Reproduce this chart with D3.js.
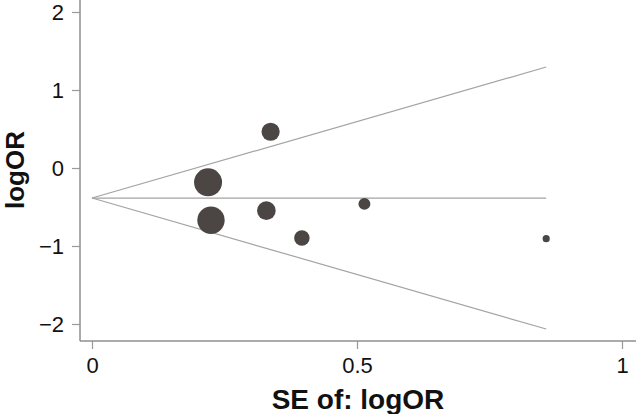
<!doctype html>
<html lang="en">
<head>
    <meta charset="utf-8">
    <script src="https://d3js.org/d3.v7.min.js"></script>
    <style>
        body { margin: 0; background: #fff; }
        svg { display: block; font-family: "Liberation Sans", Arial, sans-serif; }
    </style>
    <title>Funnel plot</title>
</head>
<body>
<div id="chart"></div>
<script>

    // study estimates
    var studySE     = [0.337, 0.219, 0.2245, 0.329, 0.396, 0.514, 0.857];
    var studyLogOR  = [0.465, -0.184, -0.67, -0.547, -0.897, -0.46, -0.906];

    // pooled estimate and pseudo 95% limits
    var pooledLogOR = -0.385;
    var maxSE = 0.857;

    var xTicks = [0, 0.5, 1];
    var yTicks = [2, 1, 0, -1, -2];

    var width = 636, height = 414;

    var svg = d3.select("#chart").append("svg")
        .attr("width", width)
        .attr("height", height);

    // set the ranges
    var x = d3.scaleLinear().domain([0, 1]).range([92, 622]);
    var y = d3.scaleLinear().domain([-2, 2]).range([324, 12]);

    var axisLeft = 80, axisBottom = 341;

    // axes
    var yAxis = svg.append("g")
        .attr("transform", "translate(" + axisLeft + ",0)")
        .attr("font-size", 22)
        .call(d3.axisLeft(y).tickValues(yTicks).tickSizeOuter(0).tickSize(8).tickPadding(8)
            .tickFormat(function(d) { return d < 0 ? "\u2212" + Math.abs(d) : d; }));
    yAxis.select(".domain").remove();

    var xAxis = svg.append("g")
        .attr("transform", "translate(0," + axisBottom + ")")
        .call(d3.axisBottom(x).tickValues(xTicks).tickSizeOuter(0).tickSize(8).tickPadding(8)
            .tickFormat(d3.format("")));
    xAxis.select(".domain").remove();

    svg.selectAll(".tick line").attr("stroke", "#9a9a9a").attr("stroke-width", 1.2);
    svg.selectAll(".tick text")
        .style("font-size", "22px")
        .style("font-family", "'Liberation Sans', Arial, sans-serif")
        .attr("fill", "#111");

    svg.append("line")
        .attr("x1", axisLeft).attr("x2", axisLeft)
        .attr("y1", 0).attr("y2", axisBottom)
        .attr("stroke", "#8f8f8f").attr("stroke-width", 1.5);
    svg.append("line")
        .attr("x1", axisLeft).attr("x2", width)
        .attr("y1", axisBottom).attr("y2", axisBottom)
        .attr("stroke", "#8f8f8f").attr("stroke-width", 1.5);

    // funnel lines
    var funnel = [
        [[0, pooledLogOR], [maxSE, pooledLogOR + 1.96 * maxSE]],
        [[0, pooledLogOR], [maxSE, pooledLogOR]],
        [[0, pooledLogOR], [maxSE, pooledLogOR - 1.96 * maxSE]]
    ];
    var line = d3.line().x(function(d) { return x(d[0]); }).y(function(d) { return y(d[1]); });
    svg.selectAll(".funnel")
        .data(funnel)
        .enter().append("path")
        .attr("class", "funnel")
        .attr("d", line)
        .attr("fill", "none")
        .attr("stroke", "#a3a3a3")
        .attr("stroke-width", 1.2);

    // points, area proportional to 1/SE^2
    var data = studySE.map(function(se, i) {
        return {se: se, logor: studyLogOR[i], w: 1 / (se * se)};
    });
    var r = d3.scaleSqrt()
        .domain([0, d3.max(data, function(d) { return d.w; })])
        .range([0, 14]);

    svg.selectAll(".pt")
        .data(data)
        .enter().append("circle")
        .attr("class", "pt")
        .attr("cx", function(d) { return x(d.se); })
        .attr("cy", function(d) { return y(d.logor); })
        .attr("r", function(d) { return r(d.w); })
        .attr("fill", "#4b4543");

    // axis titles
    svg.append("text")
        .attr("x", 358).attr("y", 409)
        .attr("text-anchor", "middle")
        .attr("font-size", 28).attr("font-weight", "bold").attr("fill", "#111")
        .text("SE of: logOR");

    svg.append("text")
        .attr("transform", "translate(24,170) rotate(-90)")
        .attr("text-anchor", "middle")
        .attr("font-size", 26).attr("font-weight", "bold").attr("fill", "#111")
        .text("logOR");

</script>
</body>
</html>
